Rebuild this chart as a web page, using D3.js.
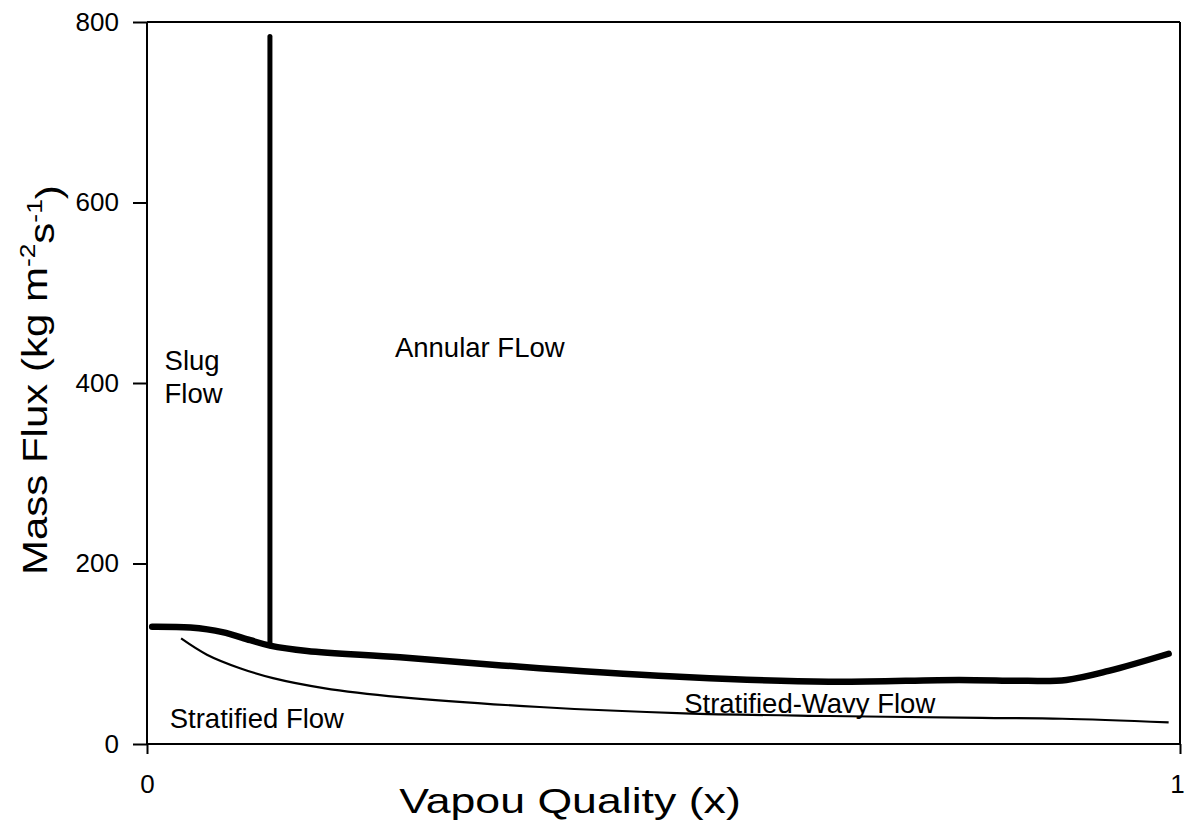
<!DOCTYPE html>
<html>
<head>
<meta charset="utf-8">
<script src="https://cdn.jsdelivr.net/npm/d3@7/dist/d3.min.js"></script>
<style>
  body { margin: 0; background: #fff; }
  text { font-family: Arial, "Liberation Sans", sans-serif; fill: #000; }
</style>
</head>
<body>
<svg id="chart" width="1184" height="822"></svg>
<script>
// upper boundary (thick curve): vapour quality vs mass flux
var upperX = [0.005, 0.042, 0.073, 0.10, 0.119, 0.155, 0.245, 0.38, 0.525, 0.66, 0.786, 0.851, 0.89, 0.931, 0.989];
var upperG = [130, 129, 124, 115, 109, 103, 96, 84, 74, 69, 71, 70, 71, 81, 100];

// lower boundary (thin curve)
var lowerX = [0.033, 0.058, 0.09, 0.122, 0.171, 0.245, 0.38, 0.52, 0.66, 0.808, 0.886, 0.989];
var lowerG = [117, 99, 84, 73, 62, 52, 41, 34, 31, 29, 28, 24];

// slug / annular transition (vertical line)
var transX = [0.119, 0.119];
var transG = [109, 784];

var yTicks = [0, 200, 400, 600, 800];
var xTicks = [0, 1];

var labels = [
  { text: "Slug", x: 0.017, y: 414 },
  { text: "Flow", x: 0.017, y: 378 },
  { text: "Annular FLow", x: 0.24, y: 429 },
  { text: "Stratified Flow", x: 0.022, y: 18 },
  { text: "Stratified-Wavy Flow", x: 0.52, y: 34 }
];

var margin = { top: 22, right: 4, bottom: 78, left: 147 };

var svg = d3.select("#chart");
var width = +svg.attr("width") - margin.left - margin.right;
var height = +svg.attr("height") - margin.top - margin.bottom;

var g = svg.append("g")
  .attr("transform", "translate(" + margin.left + "," + margin.top + ")");

var x = d3.scaleLinear().domain([0, 1]).range([0, width]);
var y = d3.scaleLinear().domain([0, 800]).range([height, 0]);

function zip(xs, ys) {
  return xs.map(function (d, i) { return [d, ys[i]]; });
}

var line = d3.line()
  .x(function (d) { return x(d[0]); })
  .y(function (d) { return y(d[1]); })
  .curve(d3.curveCatmullRom.alpha(0.5));

// frame (top and right)
g.append("line")
  .attr("x1", 0).attr("x2", width)
  .attr("y1", 0).attr("y2", 0)
  .attr("stroke", "#000").attr("stroke-width", 2);
g.append("line")
  .attr("x1", width).attr("x2", width)
  .attr("y1", 0).attr("y2", height)
  .attr("stroke", "#000").attr("stroke-width", 2);

// axes
var yAxis = d3.axisLeft(y).tickValues(yTicks).tickSize(14).tickPadding(14).tickFormat(d3.format("d"));
var xAxis = d3.axisBottom(x).tickValues(xTicks).tickSize(10).tickPadding(14).tickFormat(d3.format("d"));

var ya = g.append("g").call(yAxis);
var xa = g.append("g").attr("transform", "translate(0," + height + ")").call(xAxis);

[ya, xa].forEach(function (a) {
  a.select(".domain").attr("stroke-width", 2);
  a.selectAll(".tick line").attr("stroke-width", 2);
  a.selectAll(".tick text").style("font-size", "26px").attr("fill", "#000");
});
ya.select(".domain").attr("d", "M0," + height + "V0");
xa.select(".domain").attr("d", "M0,0H" + width);
xa.selectAll(".tick text").attr("dy", "0.95em");
xa.selectAll(".tick text").filter(function (d) { return d === 1; }).attr("dx", "-3");

// curves
g.append("path")
  .attr("d", line(zip(lowerX, lowerG)))
  .attr("fill", "none").attr("stroke", "#000").attr("stroke-width", 2.2);

g.append("path")
  .attr("d", line(zip(upperX, upperG)))
  .attr("fill", "none").attr("stroke", "#000").attr("stroke-width", 6.5)
  .attr("stroke-linecap", "round").attr("stroke-linejoin", "round");

g.append("path")
  .attr("d", d3.line().x(function (d) { return x(d[0]); }).y(function (d) { return y(d[1]); })(zip(transX, transG)))
  .attr("fill", "none").attr("stroke", "#000").attr("stroke-width", 5)
  .attr("stroke-linecap", "round");

// region labels
g.selectAll("text.region")
  .data(labels)
  .enter().append("text")
  .attr("class", "region")
  .attr("x", function (d) { return x(d.x); })
  .attr("y", function (d) { return y(d.y); })
  .style("font-size", "27.5px")
  .text(function (d) { return d.text; });

// axis titles (the scanned original uses a wide face, so stretch a little)
svg.append("text")
  .attr("transform", "translate(570,813) scale(1.24,1)")
  .attr("text-anchor", "middle")
  .style("font-size", "36px")
  .text("Vapou Quality (x)");

var yt = svg.append("text")
  .attr("transform", "translate(47,575) rotate(-90) scale(1.2,1)")
  .style("font-size", "35px");
yt.append("tspan").text("Mass Flux (kg m");
yt.append("tspan").attr("dy", "-0.55em").style("font-size", "22px").text("-2");
yt.append("tspan").attr("dy", "0.55em").text("s");
yt.append("tspan").attr("dy", "-0.55em").style("font-size", "22px").text("-1");
yt.append("tspan").attr("dy", "0.55em").text(")");
</script>
</body>
</html>
